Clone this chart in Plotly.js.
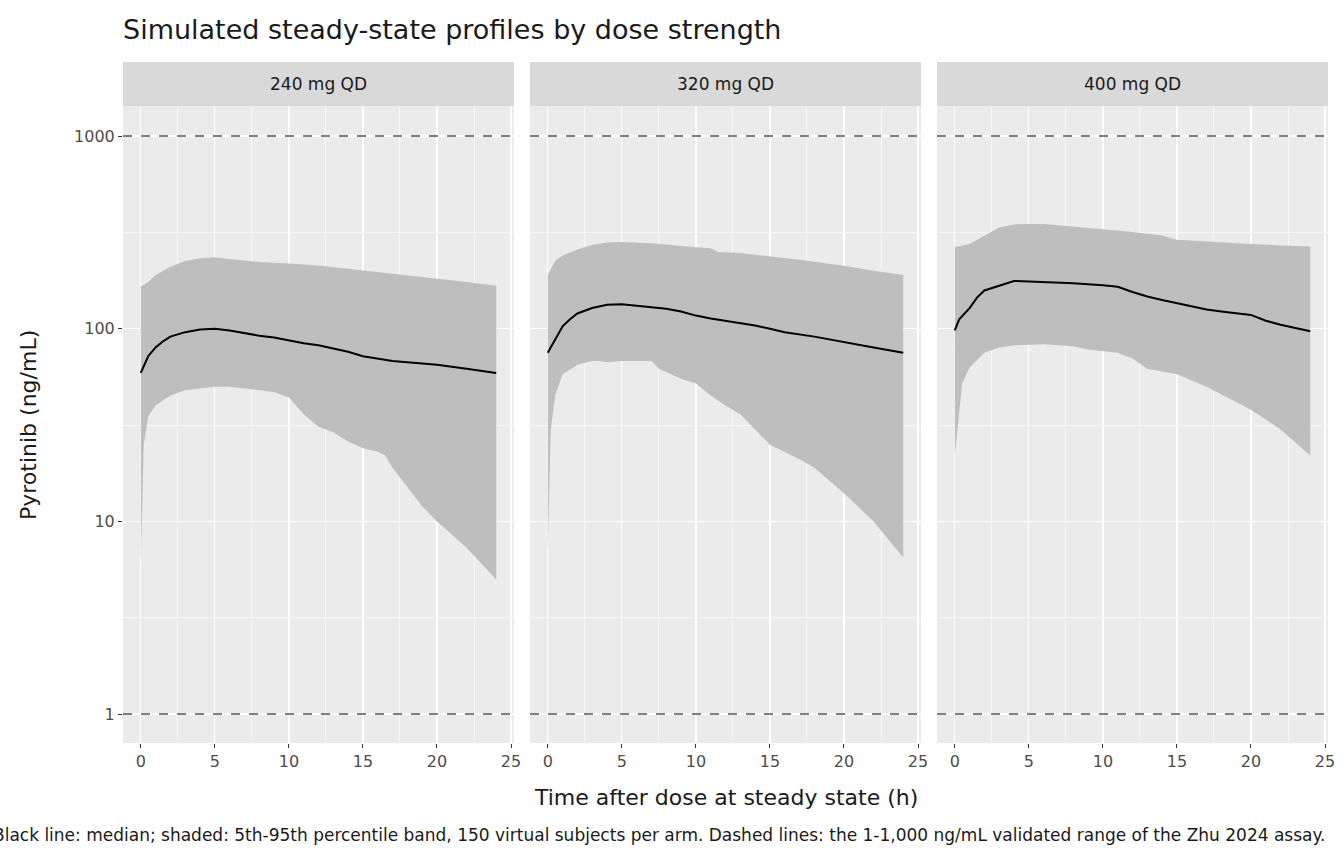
<!DOCTYPE html><html><head><script src="https://cdn.plot.ly/plotly-3.0.1.min.js"></script></head><body style="margin:0"><div id="c" style="width:1344px;height:864px"></div><script>
const panels=["240 mg QD","320 mg QD","400 mg QD"];
const medT=[[0,0.5,1,1.5,2,3,4,5,6,7,8,9,10,11,12,13,14,15,16,17,18,20,22,24],[0,0.5,1,1.5,2,3,4,5,6,7,8,9,10,11,12,13,14,15,16,18,20,22,24],[0,0.3,1,1.5,2,3,4,5,6,8,10,11,12,13,14,15,16,17,18,20,21,22,24]];
const medV=[[59,72,80,86,91,96,99,100,98,95,92,90,87,84,82,79,76,72,70,68,67,65,62,59],[75,88,103,112,120,128,133,134,132,130,127,123,117,113,110,107,104,100,96,91,85,80,75],[98,112,128,145,158,168,177,176,175,172,168,165,155,147,141,136,131,126,123,118,110,105,97]];
const upT=[[0,0.5,1,2,3,4,5,6,8,10,12,13,14,16,18,20,22,24],[0,0.5,1,2,3,4,5,7,8,10,11,11.5,13,15,17,20,22,24],[0,1,2,3,4,5,6,8,10,12,14,15,17,20,24]];
const upV=[[165,175,190,210,225,232,235,230,222,218,213,210,205,198,190,182,175,167],[190,225,240,258,272,280,282,278,272,265,262,250,247,238,228,212,200,190],[265,275,305,335,348,350,350,340,328,318,305,290,285,275,267]];
const loT=[[0,0.2,0.5,1,2,3,5,6,7,9,10,11,12,13,14,15,16,16.5,17,18,19,20,22,24],[0,0.2,0.5,1,2,3,3.5,4,5,7,7.5,9,10,11,12,13,14,15,17,18,20,22,24],[0,0.5,1,2,3,4,6,8,9,11,12,13,15,17,20,22,24]];
const loV=[[6,25,35,40,45,48,50,50,49,47,44,36,31,29,26,24,23,22,19,15,12,10,7.3,5],[7,30,45,58,65,68,68,67,68,68,62,55,52,45,40,36,30,25,21,19,14,10,6.5],[22,52,63,75,80,82,83,81,78,75,70,62,58,50,38,30,22]];
const doms=[[123/1344,514/1344],[530/1344,921/1344],[937/1344,1328/1344]];
const data=[],shapes=[],ann=[];const layout={paper_bgcolor:'#fff',plot_bgcolor:'#ebebeb',showlegend:false,margin:{l:0,r:0,t:0,b:0},font:{family:'DejaVu Sans',color:'#1a1a1a'}};
const yd=[1-743/864,1-106/864];
for(let i=0;i<3;i++){const s=i?String(i+1):'';const xa='x'+s,ya='y'+s;
data.push({x:loT[i].concat(upT[i].slice().reverse()),y:loV[i].concat(upV[i].slice().reverse()),xaxis:xa,yaxis:ya,fill:'toself',fillcolor:'#bebebe',line:{width:0},mode:'lines',hoverinfo:'skip'});
data.push({x:medT[i],y:medV[i],xaxis:xa,yaxis:ya,mode:'lines',line:{color:'#000',width:2}});
layout['xaxis'+s]={domain:doms[i],anchor:ya,range:[-1.2,25.2],tickvals:[0,5,10,15,20,25],gridcolor:'#fff',gridwidth:1.3,minor:{tickvals:[2.5,7.5,12.5,17.5,22.5],gridcolor:'#fff',gridwidth:0.6,showgrid:true},zeroline:false,ticks:'outside',ticklen:4,tickcolor:'#333',tickfont:{size:16,color:'#4d4d4d'}};
layout['yaxis'+s]={domain:yd,anchor:xa,type:'log',range:[-0.15,3.156],tickvals:[1,10,100,1000],ticktext:['1','10','100','1000'],showticklabels:i==0,gridcolor:'#fff',gridwidth:1.3,minor:{tickvals:[3.162,31.62,316.2],gridcolor:'#fff',gridwidth:0.6,showgrid:true},zeroline:false,ticks:i==0?'outside':'',ticklen:4,tickcolor:'#333',tickfont:{size:16,color:'#4d4d4d'}};
[1,1000].forEach(v=>shapes.push({type:'line',xref:xa+' domain',yref:ya,x0:0,x1:1,y0:v,y1:v,line:{color:'#555',width:1.5,dash:'dash'}}));
shapes.push({type:'rect',xref:'paper',yref:'paper',x0:doms[i][0],x1:doms[i][1],y0:yd[1],y1:1-62/864,fillcolor:'#d9d9d9',line:{width:0}});
ann.push({text:panels[i],xref:'paper',yref:'paper',x:(doms[i][0]+doms[i][1])/2,y:1-84/864,xanchor:'center',yanchor:'middle',showarrow:false,font:{size:17,color:'#1a1a1a'}});}
ann.push({text:'Simulated steady-state profiles by dose strength',xref:'paper',yref:'paper',x:121/1344,y:1-30/864,xanchor:'left',yanchor:'middle',showarrow:false,font:{size:27}});
ann.push({text:'Time after dose at steady state (h)',xref:'paper',yref:'paper',x:(123+1328)/2/1344,y:1-797/864,xanchor:'center',yanchor:'middle',showarrow:false,font:{size:22}});
ann.push({text:'Pyrotinib (ng/mL)',xref:'paper',yref:'paper',x:28/1344,y:1-425/864,xanchor:'center',yanchor:'middle',textangle:-90,showarrow:false,font:{size:22}});
ann.push({text:'Black line: median; shaded: 5th-95th percentile band, 150 virtual subjects per arm. Dashed lines: the 1-1,000 ng/mL validated range of the Zhu 2024 assay.',xref:'paper',yref:'paper',x:1328/1344,y:1-835/864,xanchor:'right',yanchor:'middle',showarrow:false,font:{size:17}});
layout.shapes=shapes;layout.annotations=ann;
Plotly.newPlot('c',data,layout,{staticPlot:true});
</script></body></html>
